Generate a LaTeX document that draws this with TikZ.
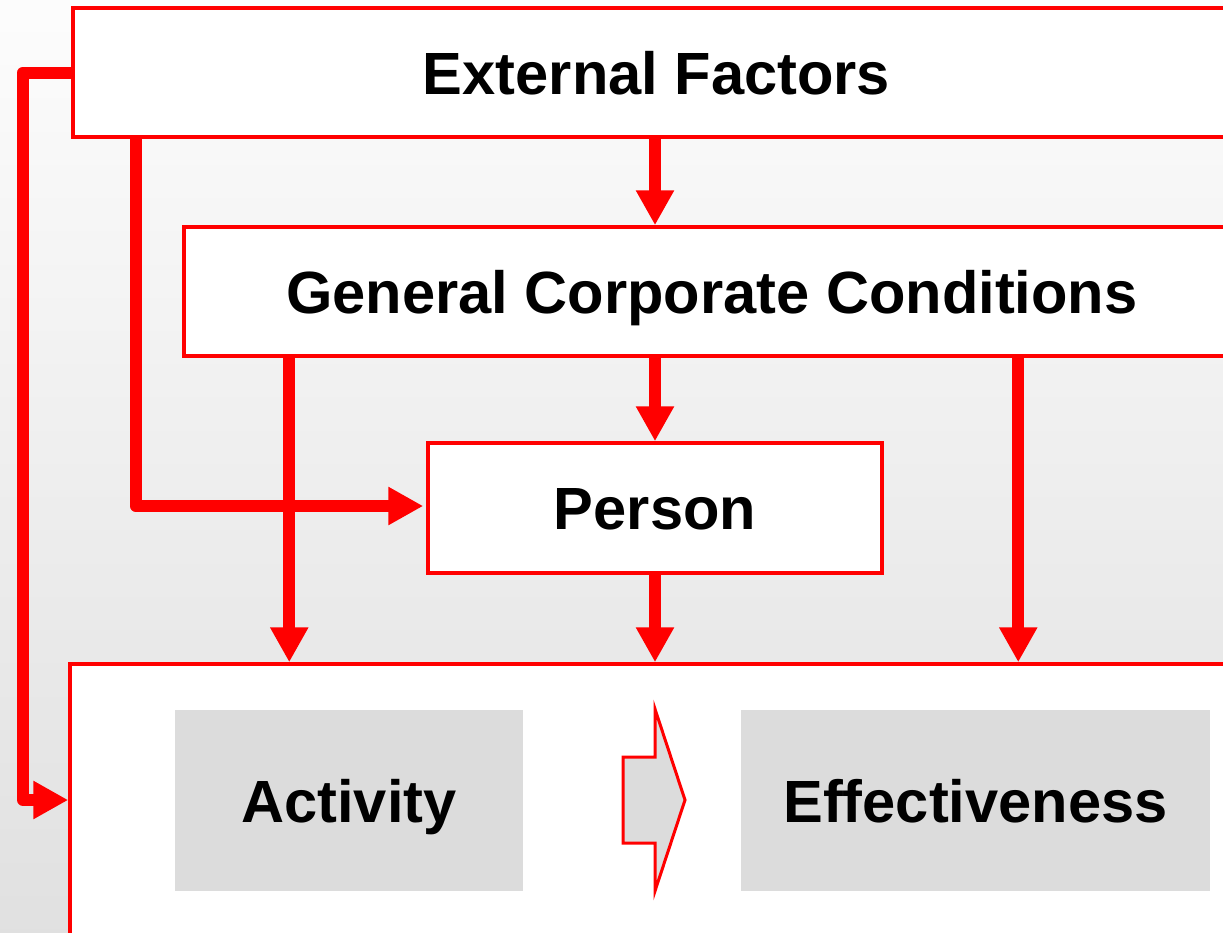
\documentclass[tikz,border=0pt]{standalone}
\usepackage{fontspec}
\setmainfont{Liberation Sans}
\usetikzlibrary{arrows.meta,calc}
\definecolor{rd}{HTML}{FF0000}
\definecolor{lgray}{HTML}{DCDCDC}
\begin{document}
\begin{tikzpicture}[x=1pt,y=-1pt,
  lbl/.style={font=\fontsize{59.6}{60}\selectfont\bfseries, text height=43pt, text depth=0pt, inner sep=0pt, anchor=center},
  box/.style={lbl, draw=rd, line width=3.5pt, fill=white},
  graybox/.style={lbl, fill=lgray},
  conn/.style={draw=rd, line width=12pt, line join=round, -{Triangle[width=36pt,length=35pt]}}]
\useasboundingbox (0,0) rectangle (1223,932);
\clip (0,0) rectangle (1223,932);
\shade[top color=black!1, bottom color=black!12] (0,0) rectangle (1223,932);
% boxes
\node[box, minimum width=1167pt, minimum height=129pt] (ext) at (656.5,72.5) {External Factors};
\node[box, minimum width=1056pt, minimum height=129pt] (gcc) at (712,291.5) {General Corporate Conditions};
\node[box, minimum width=454pt, minimum height=130pt] (person) at (655,508) {Person};
\node[box, minimum width=1170pt, minimum height=272pt] (bottom) at (655,800) {};
\node[graybox, minimum width=348pt, minimum height=181pt] (act) at (349,800.5) {Activity};
\node[graybox, minimum width=469pt, minimum height=181pt] (eff) at (975.5,800.5) {Effectiveness};
% block arrow between activity and effectiveness
\draw[draw=rd, fill=lgray, line width=3pt, line join=miter]
  (623,757) -- (655,757) -- (655,709) -- (685,800) -- (655,891) -- (655,843) -- (623,843) -- cycle;
% connectors
\coordinate (lc) at (23,800);
\draw[conn] (ext.west) -| (lc) -- (bottom.west);
\coordinate (p1) at ($(ext.south west)+(64.5,0)$);
\draw[conn] (p1) |- ($(person.west)+(-3,-2)$);
\draw[conn] (ext.south -| person.north) -- (gcc.north -| person.north);
\coordinate (g1) at ($(gcc.south west)+(107,0)$);
\coordinate (g2) at ($(gcc.south west)+(836,0)$);
\draw[conn] (g1) -- (g1 |- bottom.north);
\draw[conn] (g2) -- (g2 |- bottom.north);
\draw[conn] (gcc.south -| person.north) -- (person.north);
\draw[conn] (person.south) -- (person.south |- bottom.north);
\end{tikzpicture}
\end{document}
